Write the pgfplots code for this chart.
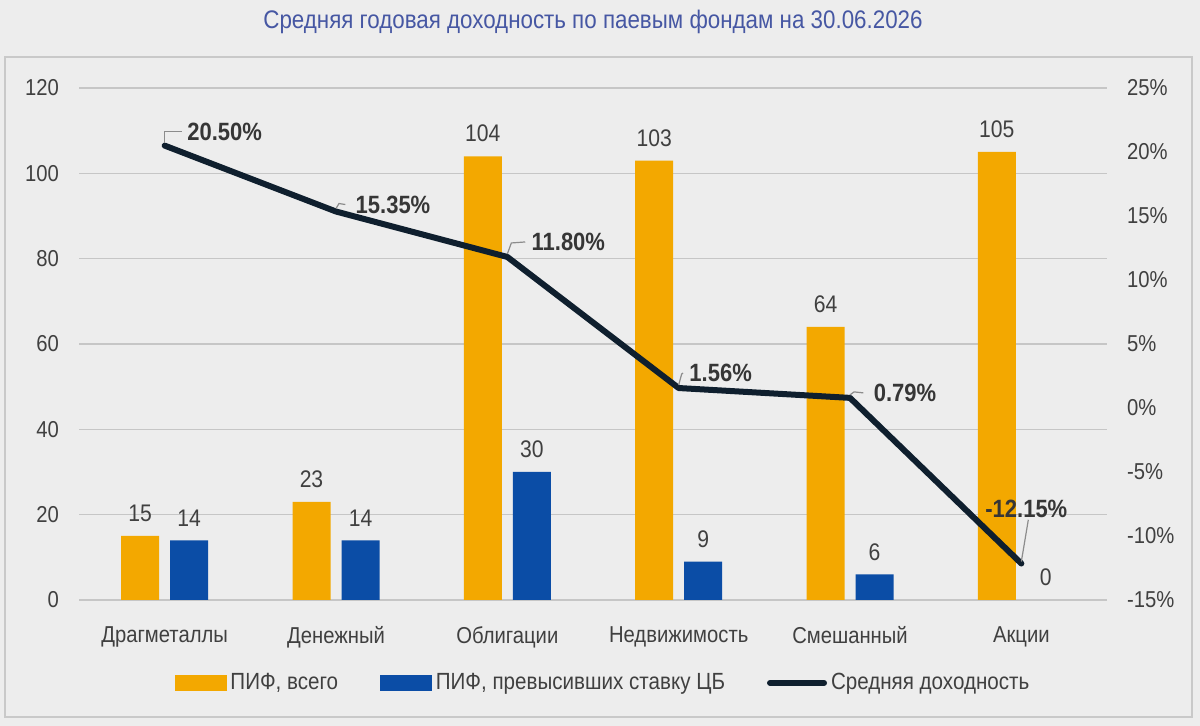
\documentclass[border=0pt]{standalone}
\usepackage{pgfplots}
\pgfplotsset{compat=1.18}
\usepackage{fontspec}
\setmainfont{Liberation Sans}[FakeStretch=0.88]
\definecolor{bg}{HTML}{EDEDED}
\definecolor{frm}{HTML}{C9C9C9}
\definecolor{grd}{HTML}{C6C6C6}
\definecolor{orng}{HTML}{F3A800}
\definecolor{blu}{HTML}{0B4DA6}
\definecolor{ln}{HTML}{0F1F2E}
\definecolor{txt}{HTML}{404040}
\definecolor{lbl}{HTML}{363636}
\definecolor{ttl}{HTML}{4657A3}
\definecolor{ldr}{HTML}{8C8C8C}
\begin{document}
\begin{tikzpicture}[font=\fontsize{11.5bp}{13.5bp}\selectfont]
\fill[bg] (0,0) rectangle (600bp,363bp);
\useasboundingbox (0,0) rectangle (600bp,363bp);
\draw[frm, line width=1bp] (2.5bp,4.5bp) rectangle (596bp,334.5bp);
\node[ttl, font=\fontsize{12.7bp}{14bp}\selectfont] at (296.5bp,352bp) {Средняя годовая доходность по паевым фондам на 30.06.2026};

\begin{axis}[at={(39.5bp,63bp)}, anchor=south west, scale only axis,
  width=514bp, height=256bp,
  xmin=-0.5, xmax=5.5, ymin=0, ymax=120, ytick={0,20,...,120},
  xtick={0,...,5},
  xticklabels={Драгметаллы,Денежный,Облигации,Недвижимость,Смешанный,Акции},
  axis line style={draw=none}, tick style={draw=none},
  ymajorgrids, grid style={grd, line width=0.8bp},
  /pgf/number format/assume math mode=true,
  ticklabel style={txt, font=\fontsize{11.5bp}{13.5bp}\selectfont},
  yticklabel style={xshift=-6.5bp},
  xticklabel style={yshift=-5.5bp},
  ybar, bar width=19bp,
  nodes near coords,
  every node near coord/.append style={txt, yshift=3.5bp, font=\fontsize{12bp}{14bp}\selectfont},
]
\addplot[fill=orng, draw=none, bar shift=-12.25bp] coordinates {(0,15)(1,23)(2,104)(3,103)(4,64)(5,105)};
\addplot[fill=blu, draw=none, bar shift=12.25bp] coordinates {(0,14)(1,14)(2,30)(3,9)(4,6)(5,0)};
\end{axis}

\begin{axis}[at={(39.5bp,63bp)}, anchor=south west, scale only axis,
  width=514bp, height=256bp,
  xmin=-0.5, xmax=5.5, ymin=-15, ymax=25, ytick={-15,-10,...,25},
  axis y line*=right, axis x line=none,
  axis line style={draw=none}, tick style={draw=none},
  /pgf/number format/assume math mode=true,
  yticklabel={\pgfmathprintnumber{\tick}\%},
  yticklabel style={txt, xshift=6.5bp, font=\fontsize{11.5bp}{13.5bp}\selectfont},
  legend style={at={(0.5107,-0.162)}, anchor=center, draw=none, fill=none,
    legend columns=3, text=txt, font=\fontsize{11.7bp}{13.5bp}\selectfont,
    /tikz/every even column/.append style={column sep=19bp}},
  legend cell align=left,
]
\addlegendimage{legend image code/.code={\fill[orng] (0bp,-3.75bp) rectangle (25.5bp,3.75bp);}}
\addlegendentry{ПИФ, всего}
\addlegendimage{legend image code/.code={\fill[blu] (0bp,-3.75bp) rectangle (25.5bp,3.75bp);}}
\addlegendentry{ПИФ, превысивших ставку ЦБ}
\addplot[ln, line width=3bp, line join=round, line cap=round,
  legend image code/.code={\draw[ln, line width=3bp, line cap=round] (0bp,0bp) -- (27bp,0bp);}]
  coordinates {(0,20.5)(1,15.35)(2,11.8)(3,1.56)(4,0.79)(5,-12.15)};
\addlegendentry{Средняя доходность}

\begin{scope}[every node/.style={lbl, font=\bfseries\fontsize{12.5bp}{14bp}\selectfont, inner sep=1bp}]
\node (a) at ([xshift=30bp,yshift=7bp]axis cs:0,20.5) {20.50\%};
\node (b) at ([xshift=28.5bp,yshift=3.5bp]axis cs:1,15.35) {15.35\%};
\node (c) at ([xshift=30.5bp,yshift=7.5bp]axis cs:2,11.8) {11.80\%};
\node (d) at ([xshift=21bp,yshift=7.5bp]axis cs:3,1.56) {1.56\%};
\node (e) at ([xshift=27.5bp,yshift=2.5bp]axis cs:4,0.79) {0.79\%};
\node (f) at ([xshift=2.5bp,yshift=27.5bp]axis cs:5,-12.15) {-12.15\%};
\end{scope}
\begin{scope}[ldr, line width=0.6bp]
\draw ([yshift=1.5bp]axis cs:0,20.5) |- ([xshift=-1.5bp]a.west);
\draw ([yshift=1.5bp]axis cs:1,15.35) -- ([xshift=1.5bp,yshift=4bp]axis cs:1,15.35) -- ([xshift=-4bp]b.west);
\draw ([yshift=1.5bp]axis cs:2,11.8) -- ([xshift=2bp,yshift=7bp]axis cs:2,11.8) -- ([xshift=-2bp]c.west);
\draw ([yshift=1.5bp]axis cs:3,1.56) -- ([xshift=1.5bp,yshift=7bp]axis cs:3,1.56) -- ([xshift=-2bp]d.west);
\draw ([yshift=1.5bp]axis cs:4,0.79) -- ([xshift=2bp,yshift=3bp]axis cs:4,0.79) -- ([xshift=-4bp]e.west);
\draw ([yshift=1bp]axis cs:5,-12.15) -- ([xshift=1bp]f.south);
\end{scope}
\end{axis}
\end{tikzpicture}
\end{document}
